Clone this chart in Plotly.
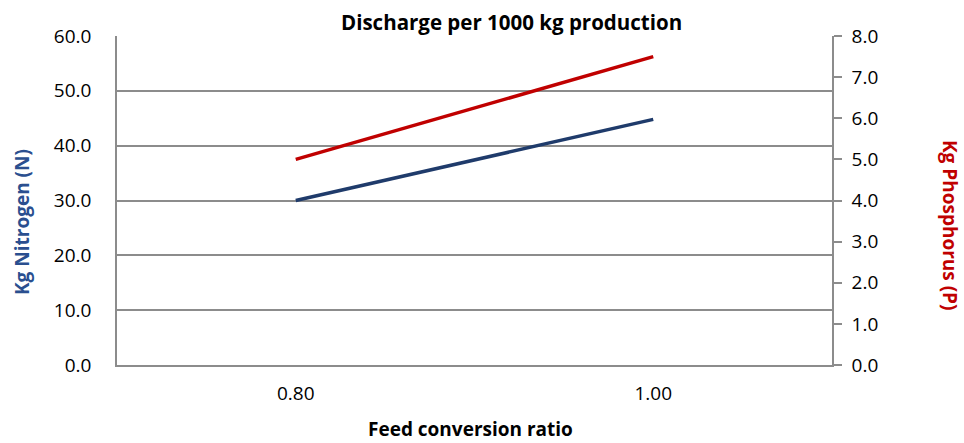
import plotly.graph_objects as go

categories = ["0.80", "1.00"]
nitrogen = [30.0, 44.8]
phosphorus = [5.0, 7.5]
n_ticks = [0, 10, 20, 30, 40, 50, 60]
p_ticks = [0, 1, 2, 3, 4, 5, 6, 7, 8]

W, H = 964, 443
L, R, T, B = 117, 132, 36, 78
PW, PH = W - L - R, H - T - B

fig = go.Figure()
fig.add_trace(go.Scatter(x=categories, y=nitrogen, mode="lines", name="Nitrogen",
                         line=dict(color="#1F3B6B", width=3.5), yaxis="y"))
fig.add_trace(go.Scatter(x=categories, y=phosphorus, mode="lines", name="Phosphorus",
                         line=dict(color="#C00000", width=3.5), yaxis="y2"))

font = "Open Sans, DejaVu Sans, sans-serif"
grid = "#8C8C8C"

fig.update_layout(
    width=W, height=H,
    margin=dict(l=L, r=R, t=T, b=B),
    paper_bgcolor="white", plot_bgcolor="white",
    showlegend=False,
    font=dict(family=font, size=19, color="#000000"),
    xaxis=dict(type="category", range=[-0.5, 1.5], showgrid=False,
               showline=True, linecolor=grid, linewidth=1.5,
               ticks="", tickfont=dict(size=19), ticklabelstandoff=10),
    yaxis=dict(range=[0, 60], tickvals=n_ticks,
               ticktext=[f"{v:.1f}" for v in n_ticks],
               showgrid=True, gridcolor=grid, gridwidth=1.5,
               showline=True, linecolor=grid, linewidth=1.5,
               ticks="", ticklabelstandoff=20, zeroline=False),
    yaxis2=dict(range=[0, 8], tickvals=p_ticks, overlaying="y", side="right",
                ticktext=[f"{v:.1f}" for v in p_ticks],
                showgrid=False, showline=True, linecolor=grid, linewidth=1.5,
                ticks="outside", ticklen=8, tickcolor=grid, tickwidth=1.5,
                ticklabelstandoff=6, zeroline=False),
)

def px_x(x):
    return (x - L) / PW

def px_y(y):
    return (H - B - y) / PH

fig.add_annotation(text="<b>Discharge per 1000 kg production</b>", xref="paper", yref="paper",
                   x=px_x(511), y=px_y(22), xanchor="center", yanchor="middle", showarrow=False,
                   font=dict(size=20.5, family=font, color="#000000"))
fig.add_annotation(text="<b>Feed conversion ratio</b>", xref="paper", yref="paper",
                   x=px_x(470), y=px_y(429), xanchor="center", yanchor="middle", showarrow=False,
                   borderpad=0, font=dict(size=19, family=font, color="#000000"))
fig.add_annotation(text="<b>Kg Nitrogen (N)</b>", xref="paper", yref="paper",
                   x=px_x(22), y=px_y(222), xanchor="center", yanchor="middle", textangle=-90,
                   showarrow=False, borderpad=0, font=dict(size=19, family=font, color="#2A4F8F"))
fig.add_annotation(text="<b>Kg Phosphorus (P)</b>", xref="paper", yref="paper",
                   x=px_x(950), y=px_y(226), xanchor="center", yanchor="middle", textangle=90,
                   showarrow=False, borderpad=0, font=dict(size=19, family=font, color="#C00000"))

fig.write_html("out.html", config={"displayModeBar": False},
               post_script="document.body.style.margin='0';document.body.style.overflow='hidden';")
